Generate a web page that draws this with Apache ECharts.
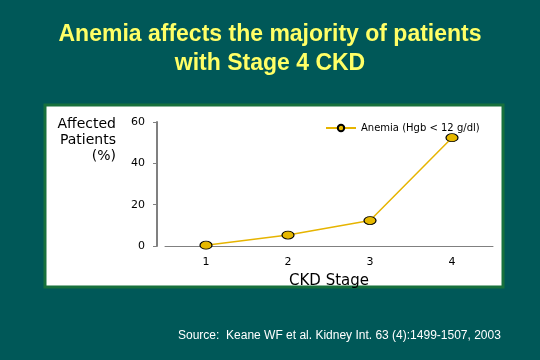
<!DOCTYPE html>
<html>
<head>
<meta charset="utf-8">
<script src="https://cdn.jsdelivr.net/npm/echarts@6/dist/echarts.min.js"></script>
<style>
html,body{margin:0;padding:0;background:#005858;}
#c{width:540px;height:360px;}
</style>
</head>
<body>
<div id="c"></div>
<script>
var categories = ['1', '2', '3', '4'];
var anemiaValues = [0.4, 5.3, 12.3, 52.4];
var seriesName = 'Anemia (Hgb < 12 g/dl)';
var yTicks = { min: 0, max: 60, interval: 20 };
var titleLines = ['Anemia affects the majority of patients', 'with Stage 4 CKD'];
var sourceText = 'Source:  Keane WF et al. Kidney Int. 63 (4):1499-1507, 2003';

var chart = echarts.init(document.getElementById('c'));
var ellipse = 'path://M0,5 A10,5 0 1,1 20,5 A10,5 0 1,1 0,5 Z';
var axisFont = 'DejaVu Sans';
chart.setOption({
  backgroundColor: '#005858',
  animation: false,
  graphic: [
    { type: 'rect', z: 0, shape: { x: 45, y: 105, width: 458, height: 182 },
      style: { fill: '#ffffff', stroke: '#17703c', lineWidth: 3 } },
    { type: 'text', z: 10, left: 'center', top: 20,
      style: { text: titleLines.join('\n'), fill: '#ffff66', font: 'bold 23px "Liberation Sans", Arial',
        textAlign: 'center', lineHeight: 29, textShadowColor: '#000', textShadowOffsetX: 2, textShadowOffsetY: 2, textShadowBlur: 0 } },
    { type: 'text', z: 10, x: 116, y: 116,
      style: { text: 'Affected\nPatients\n(%)', fill: '#000', font: '14px "DejaVu Sans"',
        textAlign: 'right', lineHeight: 16 } },
    { type: 'text', z: 10, x: 178, y: 330,
      style: { text: sourceText, fill: '#ffffff', font: '12px "Liberation Sans", Arial',
        textShadowColor: '#000', textShadowOffsetX: 1, textShadowOffsetY: 1, textShadowBlur: 0 } }
  ],
  legend: {
    left: 320, top: 118, itemWidth: 30, itemHeight: 8, itemGap: 6,
    textStyle: { fontFamily: axisFont, fontSize: 10, color: '#000' },
    data: [seriesName]
  },
  grid: { left: 165, right: 47, top: 122, bottom: 114, containLabel: false },
  xAxis: {
    type: 'category', data: categories, offset: 4, boundaryGap: true,
    axisLine: { lineStyle: { color: '#808080', width: 1 } },
    axisTick: { alignWithLabel: true, length: 3, lineStyle: { color: '#808080' } },
    axisLabel: { color: '#000', fontFamily: axisFont, fontSize: 11, margin: 7 },
    name: 'CKD Stage', nameLocation: 'middle', nameGap: 24,
    nameTextStyle: { color: '#000', fontFamily: axisFont, fontSize: 15 }
  },
  yAxis: {
    type: 'value', min: yTicks.min, max: yTicks.max, interval: yTicks.interval, offset: 8,
    axisLine: { show: true, lineStyle: { color: '#808080', width: 2 } },
    axisTick: { show: true, length: 4, lineStyle: { color: '#808080', width: 1 } },
    splitLine: { show: false },
    axisLabel: { color: '#000', fontFamily: axisFont, fontSize: 11, margin: 12 }
  },
  series: [{
    name: seriesName, type: 'line', data: anemiaValues,
    symbol: ellipse, symbolSize: [12, 8],
    lineStyle: { color: '#e6b400', width: 1.5 },
    itemStyle: { color: '#e6b800', borderColor: '#000', borderWidth: 1 }
  }]
});
</script>
</body>
</html>
